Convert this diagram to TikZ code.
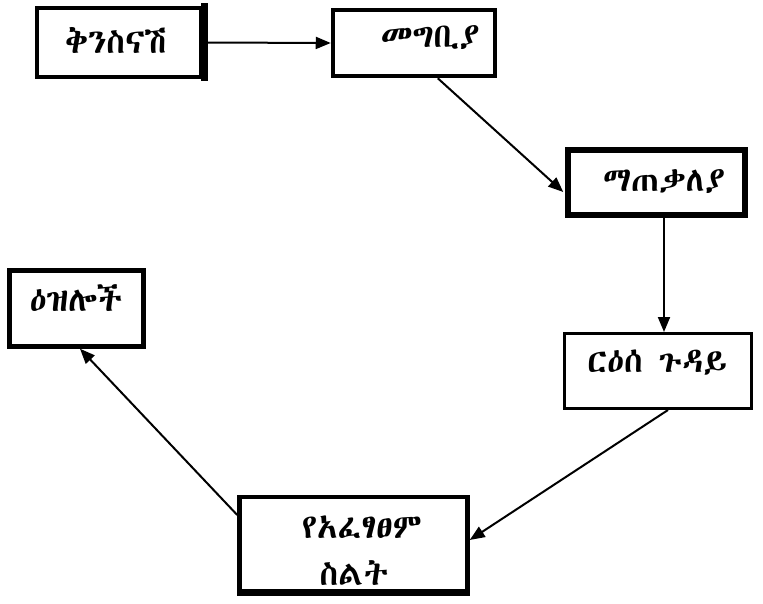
\documentclass[tikz,border=0pt]{standalone}
\usepackage{fontspec}
\usetikzlibrary{arrows.meta,calc}
\IfFontExistsTF{Abyssinica SIL}{\newfontfamily\eth{Abyssinica SIL}}{%
  \IfFontExistsTF{FreeSerif.otf}{\newfontfamily\eth{FreeSerif.otf}}{%
    \newfontfamily\eth{DejaVu Sans}}}
\tikzset{
  box/.style={draw, rectangle, line width=4.5pt, inner sep=0pt},
  lbl/.style={inner sep=0pt, font=\eth\fontsize{34}{40}\selectfont},
  conn/.style={line width=2pt, -{Triangle[length=15pt,width=12pt]}}
}
\begin{document}
\begin{tikzpicture}[x=1pt,y=-1pt]
\useasboundingbox[fill=white] (0,0) rectangle (763,604);
% boxes
\node[box, minimum width=164pt, minimum height=69pt] (b1) at (119,42.5) {};
\node[box, minimum width=162pt, minimum height=66pt] (b2) at (414,43) {};
\node[box, line width=5.5pt, minimum width=177pt, minimum height=65pt] (b3) at (656.5,182.5) {};
\node[box, minimum width=134pt, minimum height=76pt] (b4) at (76.5,308.5) {};
\node[box, line width=3pt, minimum width=187pt, minimum height=75pt] (b5) at (658,371) {};
\node[box, minimum width=228pt, minimum height=94pt] (b6) at (353.5,544) {};
% thicker right edge of first box
\draw[line width=7pt] ($(b1.north east)+(1.5,-2.25)$) -- ($(b1.south east)+(1.5,2.25)$);
% labels
\node[lbl] (t1) at (116,40) {ቅንስናሽ};
\node[lbl] (t2) at (430,38) {መግቢያ};
\node[lbl] (t3) at (664,182) {ማጠቃለያ};
\node[lbl] (t4) at (76,298) {ዕዝሎች};
\node[lbl] (t5) at (657,363) {ርዕሰ ጉዳይ};
\node[lbl] (t6a) at (362,527) {የአፈፃፀም};
\node[lbl] (t6b) at (354,573) {ስልት};
% connectors
\draw[conn] (b1.east) -- (b2.west);
\draw[conn] ($(b2.south west)+(107,0)$) -- ($(b3.west)+(-2,9.5)$);
\draw[conn] ($(b3.south)+(7.5,0)$) -- ($(b5.north)+(6,0)$);
\draw[conn] ($(b5.south)+(10,0)$) -- ($(b6.east)+(0,-4)$);
\draw[conn] ($(b6.west)+(0,-29)$) -- ($(b4.south)+(3.5,0)$);
% bottom edge of last box drawn over its text
\draw[line width=4.5pt] (b6.south west) -- (b6.south east);
\fill[white] ($(b6.south west)+(-3,2.25)$) rectangle ($(b6.south east)+(3,6)$);
\end{tikzpicture}
\end{document}
